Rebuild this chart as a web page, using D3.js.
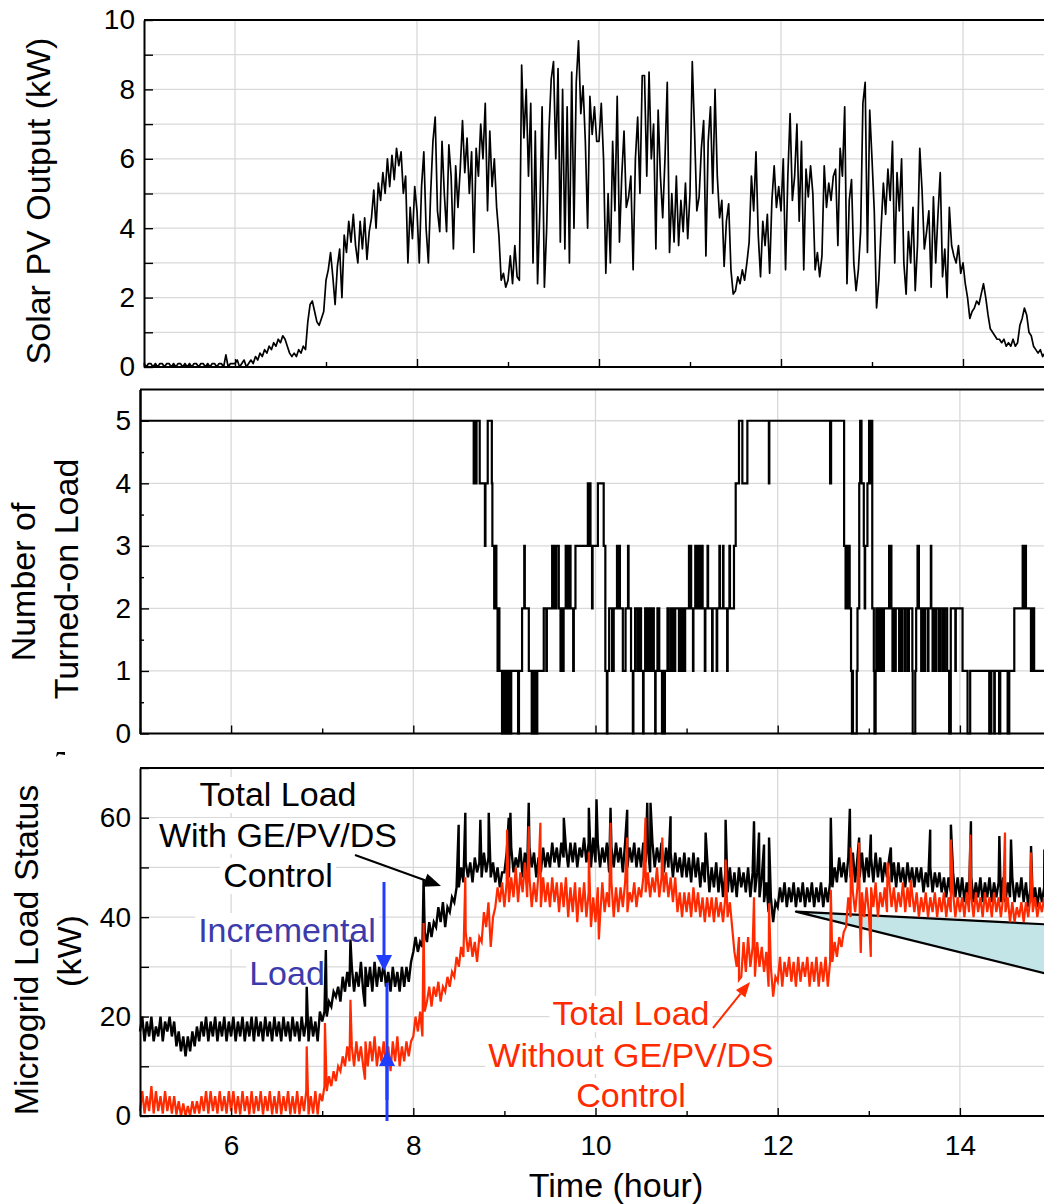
<!DOCTYPE html>
<html>
<head>
    <meta charset="UTF-8" />
    <style>
        body { margin: 0; background: #fff; }
        svg { display: block; background: #fff; }
        .grid line { stroke: #d9d9d9; stroke-width: 1.3; }
        .ax path, .ax line { stroke: #000; }
        .ax path { stroke-width: 2; }
        .ax line { stroke-width: 1.4; }
        .ax text { font-size: 28px; fill: #000; }
    </style>
    <script src="https://d3js.org/d3.v7.min.js"></script>
</head>
<body>
    <svg width="1044" height="1204"></svg>
    <script>
        var FONT = '"Liberation Sans", Arial, Helvetica, sans-serif';

        // samples every 0.025 h starting at 5:00
        var t0 = 5, step = 0.025;

        var pvValues = [
            0.1,0.0,0.1,0.1,0.0,0.1,0.0,0.1,0.1,0.0,0.1,0.1,0.0,0.1,0.0,0.1,0.1,0.0,0.1,0.0,
            0.1,0.0,0.1,0.1,0.0,0.1,0.1,0.0,0.1,0.0,0.1,0.1,0.0,0.1,0.1,0.0,0.35,0.0,0.1,0.1,
            0.1,0.2,0.0,0.1,0.2,0.0,0.1,0.2,0.1,0.3,0.2,0.4,0.3,0.5,0.4,0.6,0.5,0.7,0.6,0.8,
            0.7,0.9,0.8,0.6,0.4,0.3,0.4,0.3,0.5,0.4,0.6,0.5,1.3,1.8,1.9,1.6,1.3,1.2,1.4,1.6,
            2.5,2.8,3.3,2.6,1.8,2.9,3.4,2.0,3.8,3.3,4.2,3.6,4.4,3.5,3.0,4.2,3.4,4.3,3.1,3.9,
            4.3,5.1,4.0,5.3,4.8,5.6,5.0,6.0,5.2,6.1,5.4,6.3,5.8,6.2,5.0,5.5,3.0,4.6,3.7,5.2,
            4.5,3.0,5.2,6.2,4.0,3.0,5.0,6.5,7.2,4.5,3.9,6.5,5.0,3.9,6.4,5.5,3.4,5.8,4.6,5.7,
            7.1,5.6,6.6,5.0,6.2,3.3,6.3,5.5,7.0,6.0,7.6,4.5,6.8,5.2,6.0,4.6,3.8,2.5,2.7,2.3,
            2.5,3.2,2.4,3.5,2.6,2.5,8.7,6.6,8.0,5.5,7.6,3.0,6.8,2.4,4.5,7.5,2.3,4.0,6.8,8.3,
            8.8,6.0,8.6,3.6,8.0,3.4,7.5,3.0,8.5,4.0,8.2,9.4,7.3,8.1,6.5,4.0,7.8,6.7,7.5,6.5,
            6.5,7.6,6.0,2.7,5.0,3.0,6.5,4.5,7.8,3.6,5.5,6.8,4.6,4.9,5.5,2.8,6.0,7.2,5.0,8.4,
            8.4,5.5,8.5,6.0,7.0,3.4,7.4,5.5,4.3,6.0,8.2,3.3,5.0,3.6,5.5,3.5,4.8,3.9,5.3,3.7,
            5.0,8.8,6.8,4.5,4.9,6.3,7.1,3.2,6.5,7.5,5.0,8.0,5.5,4.3,4.8,2.9,4.2,4.7,2.8,2.1,
            2.2,2.6,2.4,2.8,2.5,3.0,3.6,5.5,4.5,6.2,3.8,2.6,4.2,3.5,4.4,2.7,4.8,5.8,4.6,5.2,
            4.5,6.0,2.8,5.5,7.3,4.8,5.5,7.0,4.2,6.5,2.8,5.7,4.9,5.8,5.0,2.8,3.3,2.6,3.2,5.8,
            4.6,5.3,4.8,5.5,5.7,3.5,6.3,5.5,7.5,2.4,4.8,5.4,3.0,2.2,2.8,3.9,7.6,8.2,3.3,7.4,
            6.0,4.5,1.7,2.5,4.0,5.3,4.4,5.7,4.8,6.5,3.0,5.6,4.5,6.0,3.0,2.1,3.9,3.0,4.6,2.2,
            3.5,6.3,5.1,3.4,3.9,4.5,2.3,4.9,3.0,4.4,5.6,2.6,3.4,2.0,4.6,3.5,3.2,3.0,3.5,2.7,
            3.0,2.4,2.0,1.4,1.6,1.7,1.9,1.8,2.1,2.4,2.0,1.5,1.1,1.0,0.9,0.8,0.8,0.7,0.8,0.6,
            0.7,0.6,0.8,0.6,0.7,1.2,1.4,1.7,1.5,1.0,0.9,0.6,0.5,0.4,0.5,0.3,0.4,0.3,0.4,0.3
        ];

        // switching events of the number of turned-on loads
        var loadTimes = [
            5.000,8.663,8.667,8.672,8.676,8.681,8.685,8.690,8.694,8.729,8.786,8.792,8.817,8.862,8.868,8.888,8.893,8.912,8.925,8.935,
            8.945,8.974,8.978,8.984,8.989,8.995,9.000,9.008,9.013,9.022,9.027,9.036,9.041,9.052,9.058,9.070,9.075,9.150,9.160,9.194,
            9.218,9.224,9.268,9.300,9.305,9.312,9.317,9.330,9.336,9.345,9.350,9.356,9.361,9.432,9.460,9.466,9.524,9.545,9.550,9.565,
            9.570,9.597,9.616,9.622,9.628,9.635,9.642,9.650,9.673,9.680,9.686,9.692,9.700,9.706,9.712,9.726,9.755,9.762,9.780,9.916,
            9.921,9.926,9.945,9.962,9.968,10.026,10.090,10.108,10.125,10.131,10.150,10.182,10.200,10.236,10.242,10.262,10.268,10.300,10.330,10.357,
            10.363,10.390,10.410,10.416,10.435,10.460,10.480,10.500,10.522,10.528,10.545,10.568,10.585,10.600,10.620,10.640,10.655,10.660,10.680,10.700,
            10.730,10.735,10.742,10.747,10.756,10.762,10.790,10.805,10.830,10.845,10.850,10.870,10.875,10.916,10.921,10.928,10.934,10.942,10.948,10.960,
            10.966,10.978,10.984,11.026,11.032,11.045,11.050,11.070,11.075,11.095,11.100,11.106,11.111,11.118,11.124,11.135,11.140,11.148,11.153,11.170,
            11.176,11.200,11.206,11.230,11.236,11.280,11.286,11.330,11.336,11.360,11.366,11.400,11.405,11.445,11.451,11.470,11.476,11.520,11.539,11.575,
            11.612,11.667,11.903,11.908,12.575,12.578,12.582,12.586,12.729,12.745,12.752,12.762,12.768,12.790,12.805,12.815,12.822,12.826,12.868,12.876,
            12.895,12.905,12.910,12.914,12.920,12.945,12.955,12.960,12.985,13.003,13.008,13.013,13.020,13.028,13.038,13.055,13.062,13.066,13.070,13.075,
            13.082,13.088,13.094,13.100,13.106,13.112,13.118,13.135,13.142,13.160,13.166,13.223,13.228,13.233,13.238,13.243,13.248,13.260,13.266,13.290,
            13.296,13.333,13.340,13.360,13.368,13.395,13.405,13.430,13.440,13.478,13.482,13.510,13.520,13.535,13.550,13.575,13.580,13.600,13.620,13.650,
            13.655,13.681,13.686,13.700,13.705,13.712,13.718,13.724,13.730,13.736,13.742,13.770,13.790,13.815,13.835,13.860,13.882,13.900,13.950,13.955,
            14.029,14.084,14.113,14.322,14.345,14.377,14.383,14.430,14.443,14.524,14.542,14.597,14.689,14.694,14.699,14.704,14.709,14.725,14.780,14.795,
            14.815
        ];
        var loadCounts = [
            5,4,5,4,5,4,5,4,5,4,3,4,5,4,3,2,3,2,1,2,
            1,0,1,0,1,0,1,0,1,0,1,0,1,0,1,0,1,0,1,2,
            3,2,1,0,1,0,1,0,1,0,1,0,1,2,1,2,3,2,3,2,
            3,2,1,2,1,2,1,2,3,2,3,2,3,2,3,2,1,2,3,4,
            3,4,3,2,3,4,3,1,0,1,2,1,2,3,2,3,2,1,2,3,
            2,1,0,1,2,1,2,1,0,1,2,1,2,1,2,1,0,1,2,1,
            0,1,0,1,0,1,2,1,2,1,2,1,2,1,2,1,2,1,2,1,
            2,1,2,3,2,3,2,1,2,3,2,3,2,3,2,3,2,3,2,3,
            2,1,2,3,2,1,2,1,2,3,2,3,2,1,2,3,2,3,4,5,
            4,5,4,5,4,5,4,5,3,2,3,2,3,2,1,0,1,0,1,2,
            4,5,4,5,4,3,2,3,4,5,4,5,4,5,2,1,0,1,0,1,
            2,1,2,1,2,1,2,1,2,1,2,3,2,3,2,3,2,1,2,1,
            2,1,2,1,2,1,2,1,2,1,0,1,2,3,2,1,2,1,2,1,
            2,3,2,1,2,1,2,1,2,1,2,1,2,1,2,1,0,2,1,2,
            1,0,1,0,1,0,1,0,1,0,1,2,3,2,3,2,3,2,1,2,
            1
        ];

        // total load with GE/PV/DS control (kW)
        var withCtrl = [
            17,20,15,19,16,20,15,18,16,20,15,19,17,20,16,19,14,17,13,16,
            12,16,13,17,14,18,15,19,16,20,15,19,16,20,15,19,16,20,15,19,
            16,20,15,19,16,20,15,19,16,20,15,20,16,19,15,20,16,19,15,20,
            16,19,15,20,16,19,15,20,16,19,15,20,16,19,15,20,16,19,15,21,
            19,21,20,23,22,25,24,26,23,28,25,29,26,30,25,29,26,31,25,30,
            26,30,25,31,26,30,27,31,26,29,25,30,26,29,25,30,26,30,27,31,
            33,36,33,35,34,37,35,39,36,39,38,42,39,43,38,42,41,44,43,46,
            46,50,47,51,48,51,47,52,49,51,48,53,49,52,48,51,47,50,46,49,
            49,53,48,54,49,52,50,54,48,53,49,54,50,53,48,52,49,54,50,53,
            50,55,51,54,50,55,52,54,50,55,51,55,50,54,52,56,51,55,50,56,
            51,55,50,54,51,55,49,54,50,55,51,54,49,55,50,54,51,55,50,54,
            50,55,51,54,49,55,50,54,51,55,49,54,50,53,48,53,49,52,48,53,
            48,52,47,53,48,52,46,51,47,52,45,50,46,51,45,50,44,49,45,50,
            45,49,44,50,46,49,45,50,44,49,45,49,44,48,43,47,41,44,39,43,
            42,46,43,47,42,46,43,47,42,46,43,47,42,46,43,47,42,46,43,47,
            42,46,43,47,46,50,47,52,48,51,47,52,48,53,47,52,48,53,47,52,
            48,52,47,53,48,52,47,51,48,52,47,51,46,51,47,50,46,51,47,50,
            46,50,47,50,45,49,46,50,45,49,46,49,45,48,44,48,45,49,44,48,
            44,48,43,47,44,48,43,47,44,48,43,47,44,48,43,47,44,47,43,48,
            43,47,44,48,43,47,44,48,43,47,42,46,43,46,42,46,43,46,42,46
        ];
        var withSpikeTimes = [6.83,7.04,7.31,7.47,8.113,8.498,8.571,8.736,8.828,9.048,9.066,9.267,9.652,9.927,10.011,10.165,10.348,10.568,10.604,10.824,
            11.209,11.428,11.74,11.795,11.85,11.905,12.583,12.792,12.894,13.022,13.242,13.674,13.901,14.121,14.433,14.561,14.781,14.927];
        var withSpikeValues = [26,33.4,35.5,22,47.5,58.6,61,59.6,61,60,61,63,60,62,63.7,62,61.6,63,63,60.3,
            57,59.6,59.3,57,54.6,56,60,61.8,56,56.6,54,57.6,58.6,59.3,56.3,55.6,54.3,53.6];

        // total load without GE/PV/DS control (kW)
        var withoutCtrl = [
            1,5,0.5,4,1,6,0.5,5,1,4,0.5,5,1,4,0.5,4,0.3,3,0,2.5,
            0,2,0,3,0.5,3,0.5,4,1,5,0.5,5,1,4,0.5,5,1,4,0.5,5,
            1,5,0.5,4,0.3,5,1,4,0.3,5,0.5,4,1,5,0.3,4,1,5,0.3,4,
            0.5,5,0.3,4,1,5,0.3,4,0.5,5,0.3,4,1,5,0.3,4,0.5,5,0.3,4.5,
            3,6,5,8,6,9,7,10,9,12,10,14,11,14,10,15,11,14,10,15,
            10,15,11,16,10,14,11,15,10,14,9,15,11,16,10,14,11,15,12,15,
            16,20,17,21,16,21,23,26,22,26,24,27,23,26,25,28,26,29,28,32,
            30,34,32,37,33,36,32,35,31,36,35,41,38,43,34,40,42,46,43,47,
            42,47,43,48,44,50,43,49,45,51,44,48,42,47,43,49,42,48,43,47,
            42,48,43,47,41,47,42,48,40,46,41,47,39,46,41,47,40,45,38,44,
            39,46,40,47,41,45,42,47,40,46,41,46,42,47,41,45,43,47,42,46,
            44,48,45,49,44,48,45,50,44,48,45,49,44,48,43,48,41,45,40,45,
            41,45,40,46,41,45,40,44,39,44,40,44,39,44,40,43,39,44,40,43,
            38,33,30,36,28,35,29,36,30,34,28,35,30,34,29,33,26,30,24,28,
            27,32,26,31,28,32,27,31,26,32,27,31,28,32,26,31,27,32,26,31,
            27,32,26,31,31,35,32,36,34,37,38,44,40,45,41,46,41,45,40,46,
            41,46,42,47,40,45,42,46,41,47,42,46,41,45,42,47,41,46,42,45,
            41,45,40,44,41,45,40,44,41,45,40,44,41,45,40,44,41,45,40,44,
            41,44,40,45,41,44,40,45,41,44,40,45,41,44,40,45,41,44,40,44,
            41,44,39,43,39,42,40,43,39,43,40,44,41,44,40,43,41,44,40,44
        ];
        var withoutSpikeTimes = [6.83,7.03,7.31,7.47,8.113,8.571,9.029,9.267,9.395,9.927,10.037,10.165,10.348,10.549,10.733,
            11.428,11.575,11.74,11.905,12.583,12.803,12.894,12.912,13.022,13.205,13.462,13.901,14.114,14.495,14.781];
        var withoutSpikeValues = [14,18.7,23.4,7.3,38.8,48,57.6,58.3,59,53,35.5,59,56,60,56,
            51.6,27.4,44,42.8,45.5,54,55,32.8,32,51,47.5,55.6,56.6,57,53];

        var hourTicks = [5, 6, 7, 8, 9, 10, 11, 12, 13, 14, 15];
        var hourLabels = [6, 8, 10, 12, 14];
        var pvTicks = [0, 1, 2, 3, 4, 5, 6, 7, 8, 9, 10];
        var pvLabels = [0, 2, 4, 6, 8, 10];
        var countTicks = [0, 1, 2, 3, 4, 5];
        var countMinor = [0.5, 1.5, 2.5, 3.5, 4.5];
        var loadTicks = [0, 10, 20, 30, 40, 50, 60, 70];
        var loadLabels = [0, 20, 40, 60];
        // light blue callout wedge, in (hour, kW)
        var wedge = [[12.2, 41.1], [15, 38.5], [15, 28.4]];

        var svg = d3.select("svg").attr("font-family", FONT);

        var pvX = d3.scaleLinear().domain([5, 15]).range([144, 1054]);
        var x = d3.scaleLinear().domain([5, 15]).range([140, 1051]);
        var pvY = d3.scaleLinear().domain([0, 10]).range([367, 20]);
        var countY = d3.scaleLinear().domain([0, 5.5]).range([733.5, 389.5]);
        var loadY = d3.scaleLinear().domain([0, 70]).range([1116, 768]);

        var panels = [
            { x: pvX, y: pvY, ticks: pvTicks, labels: pvLabels, minor: [], xlab: false },
            { x: x, y: countY, ticks: countTicks, labels: countTicks, minor: countMinor, xlab: false },
            { x: x, y: loadY, ticks: loadTicks, labels: loadLabels, minor: [], xlab: true }
        ];

        // grids
        panels.forEach(function(p) {
            var g = svg.append("g").attr("class", "grid");
            var x0 = p.x.range()[0];
            g.selectAll(".h").data(p.ticks).enter().append("line")
                .attr("x1", x0).attr("x2", 1044)
                .attr("y1", function(d) { return p.y(d); })
                .attr("y2", function(d) { return p.y(d); });
            g.selectAll(".v").data(hourLabels).enter().append("line")
                .attr("x1", function(d) { return p.x(d); })
                .attr("x2", function(d) { return p.x(d); })
                .attr("y1", p.y.range()[0]).attr("y2", p.y.range()[1]);
        });

        function toSeries(values, spikeT, spikeV) {
            var pts = values.map(function(v, i) { return { t: t0 + i * step, v: v }; });
            spikeT.forEach(function(t, i) { pts.push({ t: t, v: spikeV[i] }); });
            pts.sort(function(a, b) { return a.t - b.t; });
            return pts;
        }

        // panel 1: PV output
        var pv = toSeries(pvValues, [], []);
        svg.append("path").datum(pv)
            .attr("d", d3.line().x(function(d) { return pvX(d.t); }).y(function(d) { return pvY(d.v); }))
            .attr("fill", "none").attr("stroke", "#000").attr("stroke-width", 1.7)
            .attr("stroke-linejoin", "round");

        // panel 2: number of loads (step line)
        var counts = loadTimes.map(function(t, i) { return { t: t, v: loadCounts[i] }; });
        counts.push({ t: 15, v: loadCounts[loadCounts.length - 1] });
        svg.append("path").datum(counts)
            .attr("d", d3.line().curve(d3.curveStepAfter)
                .x(function(d) { return x(d.t); }).y(function(d) { return countY(d.v); }))
            .attr("fill", "none").attr("stroke", "#000").attr("stroke-width", 2.2);

        // annotation backgrounds go under the data lines
        var bgLayer = svg.append("g");

        // panel 3: wedge + loads
        svg.append("path")
            .attr("d", d3.line().x(function(d) { return x(d[0]); }).y(function(d) { return loadY(d[1]); })(wedge) + "Z")
            .attr("fill", "#c4e5e8").attr("stroke", "#000").attr("stroke-width", 2.2)
            .attr("stroke-linejoin", "round");

        var loadLine = d3.line().x(function(d) { return x(d.t); }).y(function(d) { return loadY(d.v); });
        svg.append("path").datum(toSeries(withCtrl, withSpikeTimes, withSpikeValues))
            .attr("d", loadLine).attr("fill", "none").attr("stroke", "#000").attr("stroke-width", 2.4);
        svg.append("path").datum(toSeries(withoutCtrl, withoutSpikeTimes, withoutSpikeValues))
            .attr("d", loadLine).attr("fill", "none").attr("stroke", "#ff2a00").attr("stroke-width", 2.2);

        // axes and frames
        panels.forEach(function(p) {
            var x0 = p.x.range()[0], yb = p.y.range()[0], yt = p.y.range()[1];
            var left = svg.append("g").attr("class", "ax").attr("transform", "translate(" + x0 + ",0)")
                .call(d3.axisLeft(p.y).tickValues(p.ticks).tickSize(-9).tickSizeOuter(0).tickPadding(9)
                    .tickFormat(function(d) { return p.labels.indexOf(d) >= 0 ? d : ""; }));
            left.attr("font-size", null).attr("font-family", null);
            if (p.minor.length) {
                svg.append("g").attr("class", "ax").attr("transform", "translate(" + x0 + ",0)")
                    .call(d3.axisLeft(p.y).tickValues(p.minor).tickSize(-4).tickSizeOuter(0).tickFormat(""));
            }
            var bottom = svg.append("g").attr("class", "ax").attr("transform", "translate(0," + yb + ")")
                .call(d3.axisBottom(p.x).tickValues(hourLabels).tickSize(-8).tickSizeOuter(0).tickPadding(19)
                    .tickFormat(function(d) { return p.xlab ? d : ""; }));
            bottom.attr("font-size", null).attr("font-family", null);
            bottom.select(".domain").attr("d", "M" + x0 + ",0H1044");
            svg.append("g").attr("class", "ax").attr("transform", "translate(0," + yb + ")")
                .call(d3.axisBottom(p.x).tickValues(hourTicks.filter(function(h) { return h % 2; }))
                    .tickSize(-5).tickSizeOuter(0).tickFormat(""))
                .select(".domain").remove();
            svg.append("line").attr("x1", x0).attr("x2", 1044).attr("y1", yt).attr("y2", yt)
                .attr("stroke", "#000").attr("stroke-width", 2);
        });

        // axis titles
        function vTitle(txt, cx, cy) {
            svg.append("text").attr("transform", "translate(" + cx + "," + cy + ") rotate(-90)")
                .attr("text-anchor", "middle").attr("font-size", 34).attr("fill", "#000").text(txt);
        }
        vTitle("Solar PV Output (kW)", 50, 201);
        vTitle("Number of", 35, 582);
        vTitle("Turned-on Load", 78, 579);
        vTitle("Microgrid Load Status", 38, 950);
        vTitle("(kW)", 81, 951);
        svg.append("text").attr("x", 616).attr("y", 1197).attr("text-anchor", "middle")
            .attr("font-size", 34).attr("fill", "#000").text("Time (hour)");

        // stray mark left of the lower panel
        svg.append("path").attr("d", "M56,757L57,752L65,752L65,755L59,754Z").attr("fill", "#000");

        // annotations
        function note(lines, cx, baselines, color) {
            lines.forEach(function(s, i) {
                var t = svg.append("text").attr("x", cx).attr("y", baselines[i])
                    .attr("text-anchor", "middle").attr("font-size", 34).attr("fill", color).text(s);
                var b = t.node().getBBox();
                bgLayer.append("rect").attr("x", b.x - 3).attr("y", b.y + 2)
                    .attr("width", b.width + 6).attr("height", b.height - 2).attr("fill", "#fff");
            });
        }
        note(["Total Load", "With GE/PV/DS", "Control"], 278, [806, 847, 887], "#000");
        note(["Incremental", "Load"], 287, [942, 985], "#3b3bab");
        note(["Total Load", "Without GE/PV/DS", "Control"], 631, [1025, 1067, 1107], "#ff2a00");

        function arrow(x1, y1, x2, y2, color, w, len, half) {
            var dx = x2 - x1, dy = y2 - y1, L = Math.sqrt(dx * dx + dy * dy);
            var ux = dx / L, uy = dy / L;
            var bx = x2 - ux * len, by = y2 - uy * len;
            svg.append("line").attr("x1", x1).attr("y1", y1).attr("x2", bx).attr("y2", by)
                .attr("stroke", color).attr("stroke-width", w);
            svg.append("path")
                .attr("d", "M" + x2 + "," + y2 + "L" + (bx - uy * half) + "," + (by + ux * half) +
                    "L" + (bx + uy * half) + "," + (by - ux * half) + "Z")
                .attr("fill", color);
        }
        arrow(355, 855, 441, 886, "#000", 2, 17, 7);
        arrow(713, 1028, 750, 982, "#ff2a00", 2, 15, 6);
        arrow(384, 882, 384, 971, "#1f3cff", 3, 16, 8);
        svg.append("line").attr("x1", 387).attr("x2", 387).attr("y1", 983).attr("y2", 1121)
            .attr("stroke", "#1f3cff").attr("stroke-width", 3);
        arrow(387, 1100, 387, 1050, "#1f3cff", 3, 16, 8);
    </script>
</body>
</html>
